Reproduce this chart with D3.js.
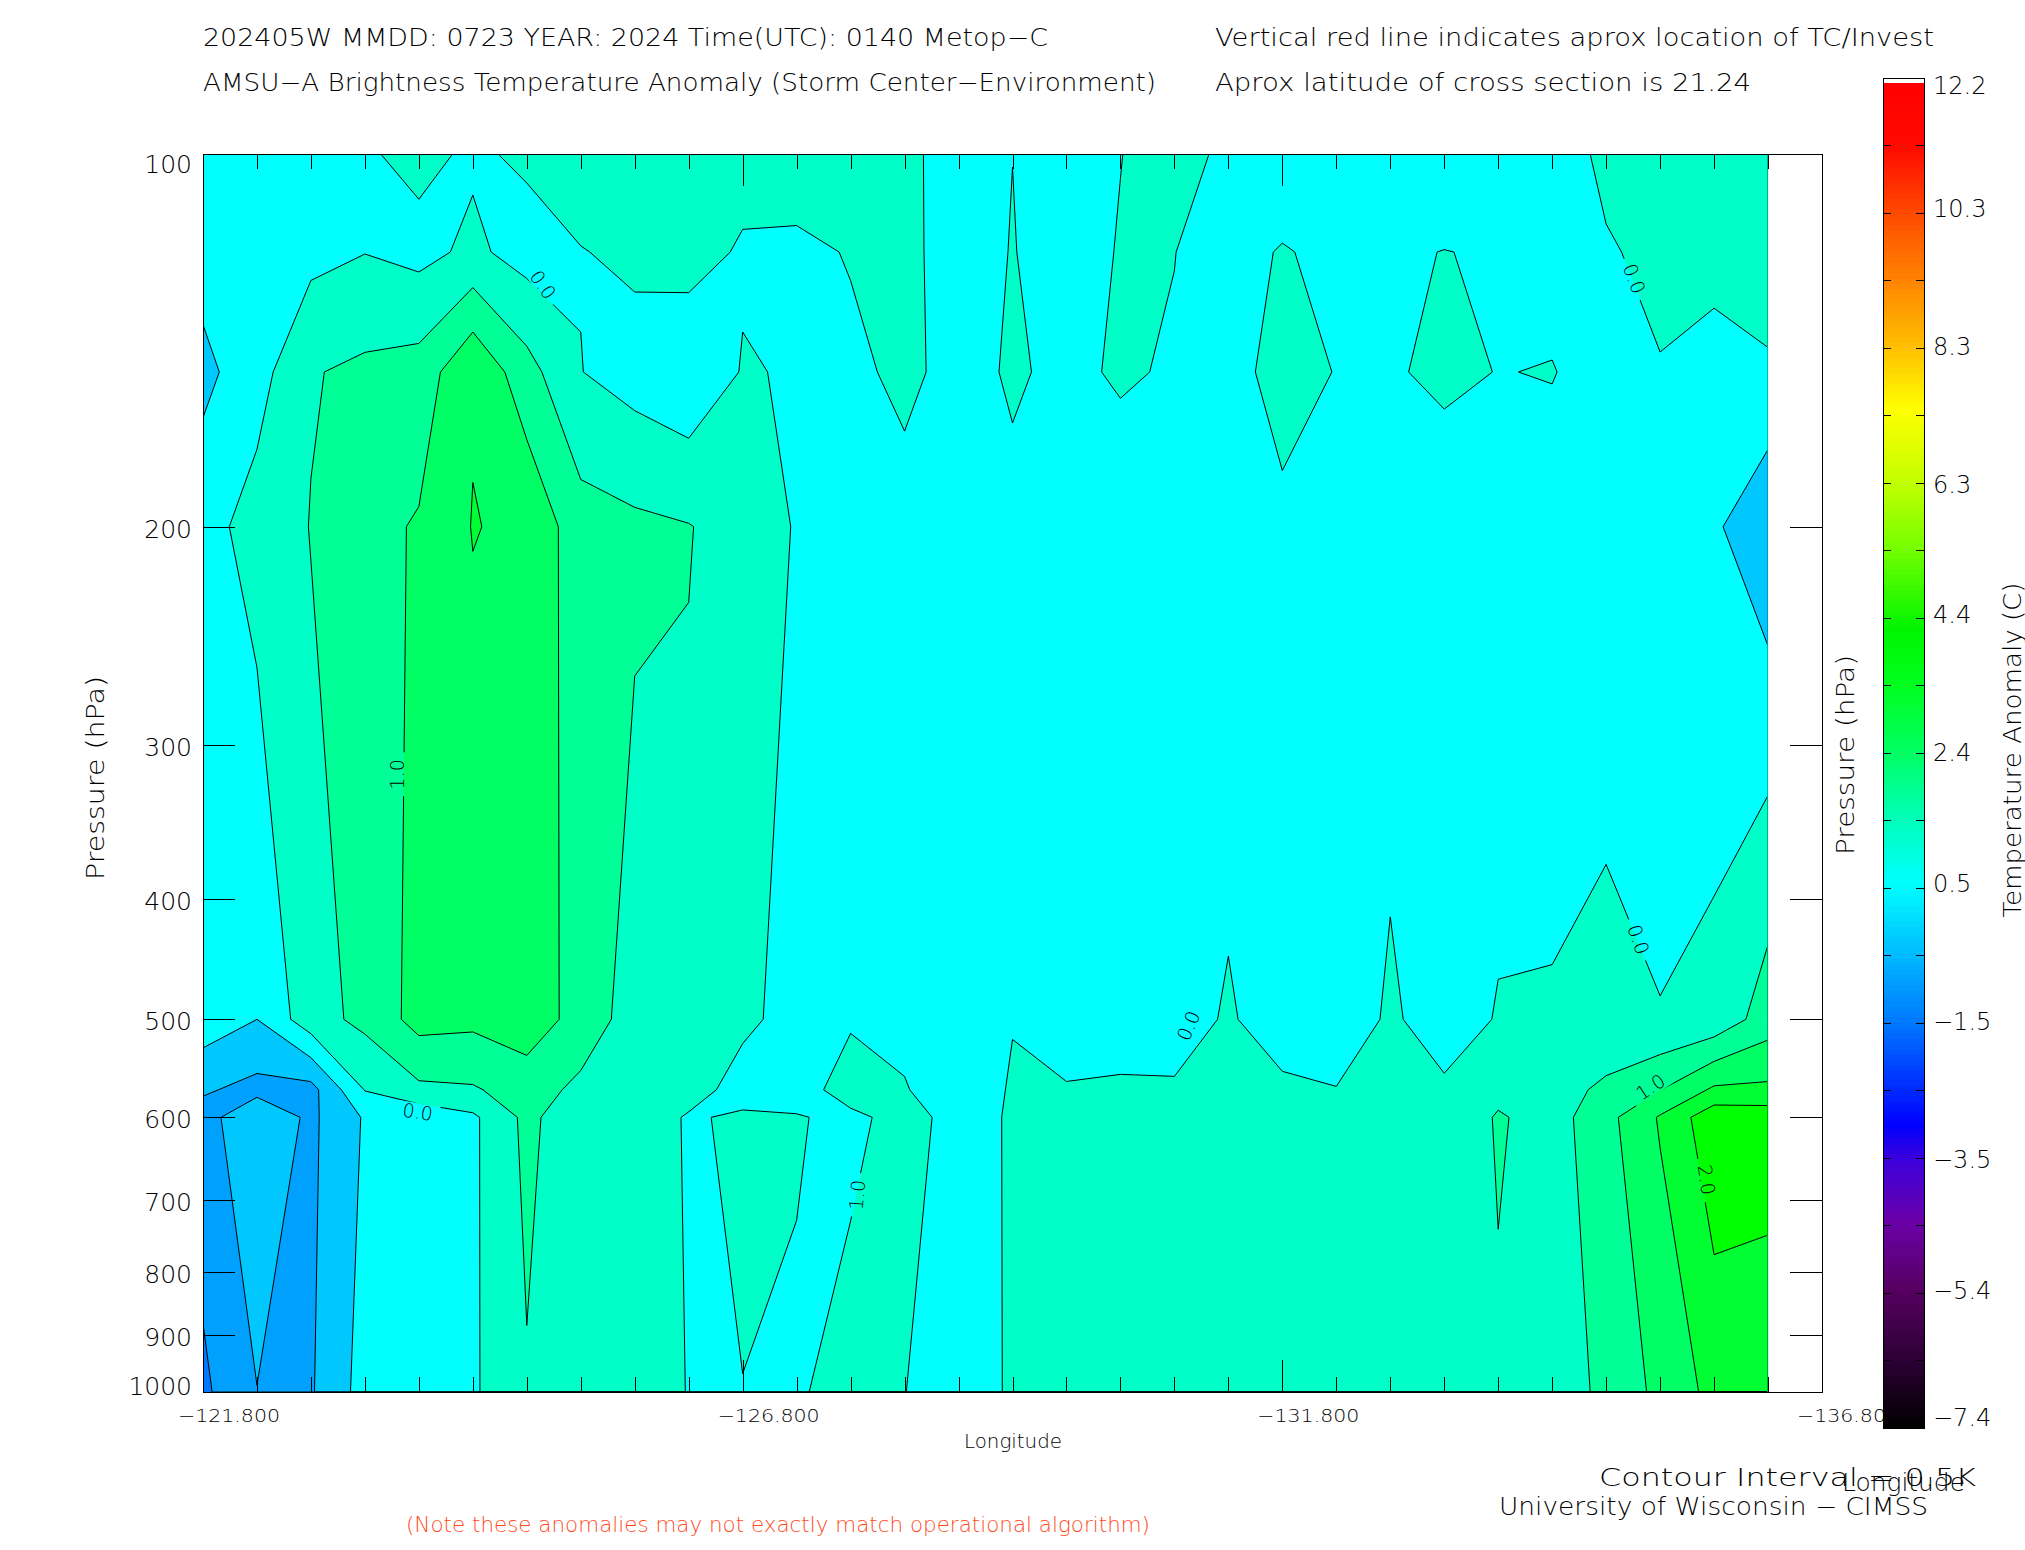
<!DOCTYPE html>
<html><head><meta charset="utf-8">
<script src="https://cdn.jsdelivr.net/npm/d3@7"></script>
<style>
html,body{margin:0;padding:0;background:#fff;}
svg{display:block;}
text{font-family:"DejaVu Sans","Liberation Sans",sans-serif;font-weight:200;fill:#000;}
</style></head><body>
<svg id="chart" width="2025" height="1550"></svg>
<script>
// ---------------- data ----------------
const longitudes = [-121.8,-122.3,-122.8,-123.3,-123.8,-124.3,-124.8,-125.3,-125.8,-126.3,-126.8,-127.3,-127.8,-128.3,-128.8,-129.3,-129.8,-130.3,-130.8,-131.3,-131.8,-132.3,-132.8,-133.3,-133.8,-134.3,-134.8,-135.3,-135.8,-136.3];
const pressureLevels = [100,120,150,200,500,570,600,1000];
const t100  = [-0.25,-0.2,-0.15,-0.05,0.12,-0.072,0.082,0.3,0.3,0.3,0.2,0.2,0.2,0.1,-0.186,-0.002,-0.15,-0.007,0.15,-0.084,-0.3,-0.2,-0.2,-0.2,-0.2,-0.238,0.1,0.3,0.3,0.4];
const t120  = [-0.3,-0.25,-0.145,-0.01,-0.14,0.1,-0.195,-0.02,0.1,0.2,-0.06,-0.074,0.02,0.08,-0.142,0.013,-0.15,0.021,0.005,-0.15,0.03,-0.1,-0.033,0.005,-0.0228,-0.18,-0.04,0.1,0.132,0.39];
const t150  = [-0.63,-0.2,0.467,0.6,0.7,1.45,0.69,0.01,-0.2,-0.39,0.03,-0.035,-0.064,0.065,-0.0975,0.0325,-0.06,0.032,-0.027,-0.1,0.1,-0.009,-0.0515,0.1,-0.012,0.02,-0.2,-0.02,-0.15,-0.1];
const t200  = [-0.19,0.2,0.515,0.85,1.045,1.52,1.4,0.715,0.6,0.52,0.3,-0.037,-0.1,-0.105,-0.2,-0.066,-0.2,-0.156,-0.2,-0.34,-0.057,-0.2,-0.179,-0.317,-0.226,-0.24,-0.218,-0.2,-0.42,-0.9];
const t500  = [-0.2,-0.5,0.3,0.628,1.18,1.12,1.3,0.8,0.27,0.39,0.1,-0.163,-0.05,-0.15,-0.3,-0.02,-0.3,-0.2,-0.2,0.05,-0.228,-0.2,0.047,-0.149,0.02,0.03,0.1,0.01,0.14,0.75];
const t570  = [-0.94,-1.15,-1.17,0.02,0.4,0.45,0.715,0.387,0.25,0.2,-0.19,-0.2,0.2,0.035,-0.33,0.05,0.04,0.056,0.047,0.15,0.081,0.01,0.15,0.0455,0.344,0.3,0.6,0.99,1.58,1.6];
const t600  = [-1.2,-0.6,-1.1,-0.45,-0.38,-0.09,0.625,0.15,0.3,-0.05,0.07,0.03,-0.1,0.15,-0.144,0.036,0.15,0.15,0.15,0.15,0.15,0.15,0.2,0.055,0.555,0.28,0.84,1.55,2.34,2.3];
const t1000 = [-1.6,-1.01,-1.05,-0.3,-0.2,-0.07,0.46,0.3,0.3,-0.02,-0.005,-0.05,0.165,0.005,-0.15,0.035,0.2,0.2,0.2,0.2,0.2,0.2,0.2,0.2,0.42,0.024,0.7,1.1,1.66,1.6];

const contourLevels = [-1.5,-1.0,-0.5,0.0,0.5,1.0,1.5,2.0];
const bandColors = ["#0078ff","#00a0ff","#00c8ff","#00ffff","#00ffc8","#00ff96","#00ff64","#00ff32","#00ff00"];

const pressureTicks = [100,200,300,400,500,600,700,800,900,1000];
const lonMajorTicks = [-121.8,-126.8,-131.8,-136.8];
const lonTickLabels = ["\u2212121.800","\u2212126.800","\u2212131.800","\u2212136.800"];
const colorbarTicks = [12.2,10.3,8.3,6.3,4.4,2.4,0.5,-1.5,-3.5,-5.4,-7.4];
const colorbarStopValues = [-7.4,-6.4,-5.4,-4.4,-3.5,-3.0,-2.5,-1.5,-0.5,0.5,1.5,2.4,3.4,4.2,5.4,6.3,7.4,8.3,9.3,10.3,11.2,12.2];
const colorbarStopColors = ["#000000","#2d0035","#55005f","#6a00a8","#3c00dc","#0000ff","#0028ff","#0078ff","#00bcff","#00ffff","#00ffb4","#00ff64","#00ff1e","#00f500","#78ff00","#c0ff00","#ffff00","#ffbe00","#ff8200","#ff4600","#ff0a00","#ff0000"];

const labelText = ["0.0","0.0","1.0","0.0","1.0","0.0","0.0","1.0","2.0"];
const labelLon  = [-124.95,-135.06,-123.60,-123.79,-127.86,-130.93,-135.10,-135.21,-135.73];
const labelP    = [127.5,126.1,317,594,693,506,431,567,674];
const labelAngle = [55,69,-90,8,-85,-67,71,-33,82];

// ---------------- layout ----------------
const svg = d3.select("#chart");
const plot = {left:203,right:1822,top:154,bottom:1392};
const x = d3.scaleLinear().domain([-121.8,-136.8]).range([plot.left,plot.right]);
const y = d3.scaleLog().domain([100,1000]).range([plot.top,plot.bottom]);

const rows = [t100,t120,t150,t200,t500,t570,t600,t1000];
const nx = longitudes.length, ny = pressureLevels.length;
const grid = [].concat(...rows);

function gridToLon(g){
  const f = Math.max(0, Math.min(nx-1, g-0.5));
  const i = Math.min(nx-2, Math.floor(f)), t = f-i;
  return longitudes[i] + t*(longitudes[i+1]-longitudes[i]);
}
function gridToP(g){
  const f = Math.max(0, Math.min(ny-1, g-0.5));
  const j = Math.min(ny-2, Math.floor(f)), t = f-j;
  const l0 = Math.log(pressureLevels[j]), l1 = Math.log(pressureLevels[j+1]);
  return Math.exp(l0 + t*(l1-l0));
}
const proj = d3.geoTransform({point(px,py){ this.stream.point(x(gridToLon(px)), y(gridToP(py))); }});
const path = d3.geoPath(proj);
const contours = d3.contours().size([nx,ny]).thresholds(contourLevels)(grid);

const defs = svg.append("defs");
const dataRight = x(longitudes[nx-1]);
defs.append("clipPath").attr("id","lineClip").append("rect")
  .attr("x",plot.left).attr("y",plot.top).attr("width",dataRight-plot.left-0.7).attr("height",plot.bottom-plot.top);

// label mask (gaps in contour lines under the labels)
const mask = defs.append("mask").attr("id","labelMask").attr("maskUnits","userSpaceOnUse")
  .attr("x",0).attr("y",0).attr("width",2025).attr("height",1550);
mask.append("rect").attr("x",0).attr("y",0).attr("width",2025).attr("height",1550).attr("fill","#fff");
labelText.forEach((t,k)=>{
  mask.append("rect").attr("x",-22).attr("y",-9).attr("width",44).attr("height",18).attr("fill","#000")
    .attr("transform",`translate(${x(labelLon[k])},${y(labelP[k])}) rotate(${labelAngle[k]})`);
});

// filled bands
const fillG = svg.append("g");
fillG.append("rect").attr("x",plot.left).attr("y",plot.top).attr("width",dataRight-plot.left)
  .attr("height",plot.bottom-plot.top).attr("fill",bandColors[0]);
fillG.selectAll("path.band").data(contours).join("path").attr("class","band")
  .attr("d",path).attr("fill",(d,i)=>bandColors[i+1]).attr("stroke","none");

// contour lines
const lineG = svg.append("g").attr("clip-path","url(#lineClip)").append("g").attr("mask","url(#labelMask)");
lineG.selectAll("path").data(contours).join("path").attr("d",path)
  .attr("fill","none").attr("stroke","#000").attr("stroke-width",1);

// contour labels
svg.append("g").selectAll("text").data(labelText).join("text")
  .attr("transform",(d,k)=>`translate(${x(labelLon[k])},${y(labelP[k])}) rotate(${labelAngle[k]})`)
  .attr("text-anchor","middle").attr("dy","0.36em").attr("font-size",19).text(d=>d);

// axes ticks
const minorLon = longitudes.concat([-136.8]);
function styleAxis(g){ g.select(".domain").remove(); g.selectAll("line").attr("stroke","#000").attr("shape-rendering","crispEdges"); g.selectAll("text").remove(); }
svg.append("g").attr("transform",`translate(0,${plot.bottom})`).call(d3.axisTop(x).tickValues(minorLon).tickSize(15)).call(styleAxis);
svg.append("g").attr("transform",`translate(0,${plot.bottom})`).call(d3.axisTop(x).tickValues(lonMajorTicks).tickSize(32)).call(styleAxis);
svg.append("g").attr("transform",`translate(0,${plot.top})`).call(d3.axisBottom(x).tickValues(minorLon).tickSize(15)).call(styleAxis);
svg.append("g").attr("transform",`translate(0,${plot.top})`).call(d3.axisBottom(x).tickValues(lonMajorTicks).tickSize(32)).call(styleAxis);
svg.append("g").attr("transform",`translate(${plot.left},0)`).call(d3.axisRight(y).tickValues(pressureTicks).tickSize(32)).call(styleAxis);
svg.append("g").attr("transform",`translate(${plot.right},0)`).call(d3.axisLeft(y).tickValues(pressureTicks).tickSize(32)).call(styleAxis);

// frame
svg.append("rect").attr("x",plot.left+0.5).attr("y",plot.top+0.5).attr("width",plot.right-plot.left).attr("height",plot.bottom-plot.top)
  .attr("fill","none").attr("stroke","#000").attr("stroke-width",1).attr("shape-rendering","crispEdges");

// y tick labels
svg.append("g").selectAll("text").data(pressureTicks).join("text")
  .attr("x",192).attr("y",(d,i)=>y(d)+(i===0?19:(i===pressureTicks.length-1?3:11))).attr("text-anchor","end").attr("font-size",25).text(d=>d);

// x tick labels
svg.append("g").selectAll("text").data(lonMajorTicks).join("text")
  .attr("x",d=>x(d)-25).attr("y",1422).attr("font-size",18)
  .attr("textLength",102).attr("lengthAdjust","spacingAndGlyphs").text((d,i)=>lonTickLabels[i]);

// titles and notes
function addText(str,xp,yp,size,len,opts={}){
  const t = svg.append("text").attr("x",xp).attr("y",yp).attr("font-size",size).text(str);
  if(len) t.attr("textLength",len).attr("lengthAdjust","spacingAndGlyphs");
  if(opts.fill) t.style("fill",opts.fill);
  if(opts.anchor) t.attr("text-anchor",opts.anchor);
  return t;
}
addText("202405W  MMDD: 0723 YEAR: 2024 Time(UTC): 0140 Metop\u2212C",203,46,24,845);
addText("AMSU\u2212A Brightness Temperature Anomaly (Storm Center\u2212Environment)",203,91,24,953);
addText("Vertical red line indicates aprox location of TC/Invest",1215,46,24,719);
addText("Aprox latitude of cross section is 21.24",1215,91,24,536);
addText("Longitude",964,1448,19,98);
addText("(Note these anomalies may not exactly match operational algorithm)",406,1532,21,744,{fill:"#ff4a1c"});
addText("Contour Interval = 0.5K",1599,1486,24,377);
addText("University of Wisconsin \u2212 CIMSS",1499,1515,24,429);
addText("Longitude",1842,1491,24,123);

// rotated axis titles
svg.append("text").attr("transform","translate(104,778) rotate(-90)").attr("text-anchor","middle")
  .attr("font-size",24).attr("textLength",204).attr("lengthAdjust","spacingAndGlyphs").text("Pressure (hPa)");
svg.append("text").attr("transform","translate(1854,755) rotate(-90)").attr("text-anchor","middle")
  .attr("font-size",24).attr("textLength",200).attr("lengthAdjust","spacingAndGlyphs").text("Pressure (hPa)");
svg.append("text").attr("transform","translate(2021,750) rotate(-90)").attr("text-anchor","middle")
  .attr("font-size",24).attr("textLength",335).attr("lengthAdjust","spacingAndGlyphs").text("Temperature Anomaly (C)");

// colorbar
const cbX = 1883, cbW = 41;
const cb = d3.scaleLinear().domain([-7.4,12.2]).range([1428,77.5]);
const cbColor = d3.scaleLinear().domain(colorbarStopValues).range(colorbarStopColors).clamp(true);
const nSteps = 256;
const stepV = (12.2-(-7.4))/nSteps;
const steps = d3.range(nSteps);
const cbG = svg.append("g");
cbG.selectAll("rect").data(steps).join("rect")
  .attr("x",cbX).attr("width",cbW)
  .attr("y",k=>cb(-7.4+(k+1)*stepV)).attr("height",k=>cb(-7.4+k*stepV)-cb(-7.4+(k+1)*stepV)+0.6)
  .attr("fill",k=>k===nSteps-1?"#ffffff":cbColor(-7.4+(k+0.5)*stepV)).attr("shape-rendering","crispEdges");
cbG.append("rect").attr("x",cbX+0.5).attr("y",cb(12.2)+0.5).attr("width",cbW).attr("height",cb(-7.4)-cb(12.2))
  .attr("fill","none").attr("stroke","#000").attr("shape-rendering","crispEdges");
const cbTickVals = d3.range(1,20).map(k=>-7.4+k*0.98);
cbG.selectAll("line.l").data(cbTickVals).join("line").attr("class","l")
  .attr("x1",cbX).attr("x2",cbX+8).attr("y1",d=>Math.round(cb(d))+0.5).attr("y2",d=>Math.round(cb(d))+0.5).attr("stroke","#000");
cbG.selectAll("line.r").data(cbTickVals).join("line").attr("class","r")
  .attr("x1",cbX+cbW-8).attr("x2",cbX+cbW).attr("y1",d=>Math.round(cb(d))+0.5).attr("y2",d=>Math.round(cb(d))+0.5).attr("stroke","#000");
cbG.selectAll("text").data(colorbarTicks).join("text")
  .attr("x",1933).attr("y",(d,i)=> i===0 ? 94 : (i===colorbarTicks.length-1 ? 1426 : cb(d)+8.5))
  .attr("font-size",24).text(d=> d<0 ? "\u2212"+Math.abs(d).toFixed(1) : d.toFixed(1));
</script>
</body></html>
